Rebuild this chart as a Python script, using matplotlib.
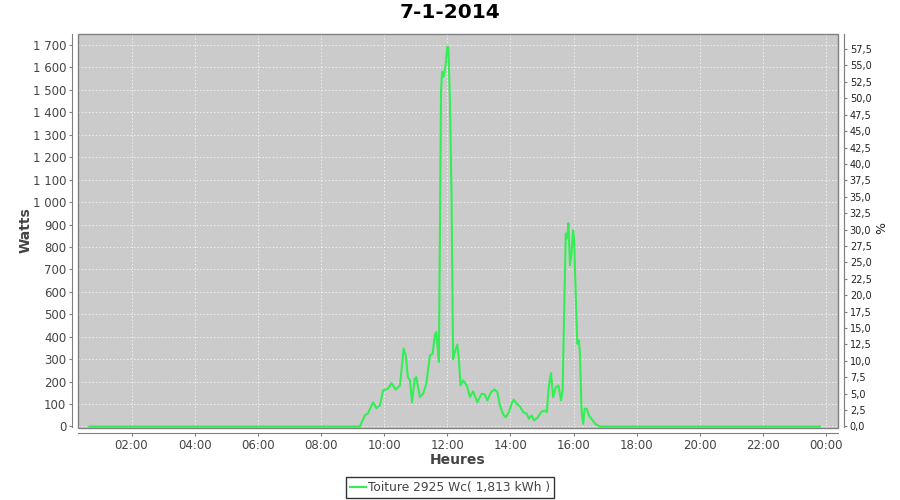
import matplotlib
matplotlib.use('Agg')
import matplotlib.pyplot as plt
from matplotlib.patches import Rectangle
from matplotlib.ticker import FuncFormatter, MultipleLocator

title = '7-1-2014'
serie_name = 'Toiture 2925 Wc( 1,813 kWh )'
peak_power = 2925.0   # Wc, the right axis is % of it

# heure de mesure, puissance en W
heures = ['00:40', '09:14', '09:23', '09:29', '09:39', '09:45', '09:52', '09:58',
          '10:07', '10:14', '10:22', '10:30', '10:37', '10:41', '10:45', '10:49',
          '10:53', '10:58', '11:01', '11:08', '11:14', '11:20', '11:27', '11:32',
          '11:36', '11:39', '11:44', '11:48', '11:50', '11:53', '11:57', '12:00',
          '12:02', '12:05', '12:08', '12:11', '12:14', '12:19', '12:22', '12:25',
          '12:30', '12:37', '12:43', '12:49', '12:57', '13:05', '13:11', '13:16',
          '13:23', '13:30', '13:35', '13:40', '13:46', '13:51', '13:57', '14:02',
          '14:06', '14:12', '14:18', '14:24', '14:31', '14:35', '14:40', '14:45',
          '14:52', '14:58', '15:04', '15:09', '15:13', '15:17', '15:21', '15:26',
          '15:31', '15:36', '15:39', '15:42', '15:45', '15:48', '15:50', '15:53',
          '15:56', '15:59', '16:01', '16:04', '16:07', '16:10', '16:12', '16:15',
          '16:18', '16:21', '16:25', '16:29', '16:34', '16:41', '16:49', '23:48']
watts = [0, 0, 49, 58, 108, 82, 94, 161,
         168, 193, 164, 183, 347, 317, 220, 205,
         108, 213, 220, 131, 146, 190, 317, 324,
         406, 421, 287, 1492, 1581, 1559, 1618, 1693,
         1685, 1455, 1023, 300, 330, 365, 300, 183,
         205, 183, 131, 157, 108, 146, 143, 116,
         153, 165, 153, 94, 54, 41, 64, 101,
         120, 101, 89, 64, 57, 34, 49, 27,
         41, 64, 71, 64, 183, 238, 131, 175,
         183, 116, 161, 518, 860, 838, 905, 718,
         771, 875, 830, 577, 369, 384, 324, 71,
         12, 79, 79, 49, 34, 12, 0, 0]

xticks = [2, 4, 6, 8, 10, 12, 14, 16, 18, 20, 22, 24]
xlabels = ['02:00', '04:00', '06:00', '08:00', '10:00', '12:00',
           '14:00', '16:00', '18:00', '20:00', '22:00', '00:00']

x = []
for h in heures:
    hh, mm = h.split(':')
    x.append(int(hh) + int(mm) / 60.0)

green = '#33ee55'
txt = '#444444'
ymin, ymax = -4.5, 1749

fig = plt.figure(figsize=(9, 5), dpi=100)
ax = fig.add_axes([77.5/900., 1-427.5/500., 760.5/900., 393.5/500.])
ax.set_facecolor('#cbcbcb')
ax.plot(x, watts, color=green, lw=1.5, label=serie_name, zorder=3)

ax.set_xlim(0.29, 24.37)
ax.set_ylim(ymin, ymax)

# plot outline
ax.add_patch(Rectangle((0, 0), 1, 1, transform=ax.transAxes, fill=False,
                       edgecolor='#808080', lw=1, clip_on=False, zorder=5))
for s in ['left', 'bottom', 'right']:
    ax.spines[s].set_position(('outward', 4))
    ax.spines[s].set_color('#808080')
ax.spines['top'].set_visible(False)

ax.yaxis.set_major_locator(MultipleLocator(100))
ax.yaxis.set_major_formatter(FuncFormatter(lambda v, p: '{:,.0f}'.format(v).replace(',', ' ')))
ax.set_xticks(xticks)
ax.set_xticklabels(xlabels)
ax.tick_params(axis='both', direction='out', length=2.5, color='#808080',
               labelsize=8.5, labelcolor=txt, pad=1.5)
ax.grid(True, color='white', linestyle=(0, (2, 3)), linewidth=0.5)
ax.set_axisbelow(True)

fig.text(26/900., 1 - 230/500., 'Watts', rotation=90, ha='center', va='center',
         fontsize=10, fontweight='bold', color=txt)
fig.text(458/900., 1 - 460/500., 'Heures', ha='center', va='center',
         fontsize=10, fontweight='bold', color=txt)

ax2 = ax.twinx()
for s in ['left', 'bottom', 'top']:
    ax2.spines[s].set_visible(False)
ax2.spines['right'].set_position(('outward', 4))
ax2.spines['right'].set_color('#808080')
ax2.yaxis.set_major_locator(MultipleLocator(2.5))
ax2.set_ylim(ymin * 100 / peak_power, ymax * 100 / peak_power)
ax2.yaxis.set_major_formatter(FuncFormatter(lambda v, p: ('%.1f' % v).replace('.', ',')))
ax2.tick_params(axis='y', direction='out', length=2.5, color='#808080',
                labelsize=7, labelcolor='#222222', pad=2)
fig.text(882/900., 1 - 228/500., '%', rotation=90, ha='center', va='center',
         fontsize=9, color='#222222')

fig.text(0.5, 1 - 13/500., title, ha='center', va='center', fontsize=14.5,
         fontweight='bold')

leg = fig.legend(loc='center', bbox_to_anchor=(0.5, 1 - 487.5/500.), fontsize=8.8,
                 frameon=True, fancybox=False, handlelength=1.3, handletextpad=0.2,
                 borderpad=0.3, borderaxespad=0)
leg.get_frame().set_edgecolor('black')
leg.get_frame().set_linewidth(1)
for t in leg.get_texts():
    t.set_color(txt)

fig.savefig('out.png', dpi=100)
